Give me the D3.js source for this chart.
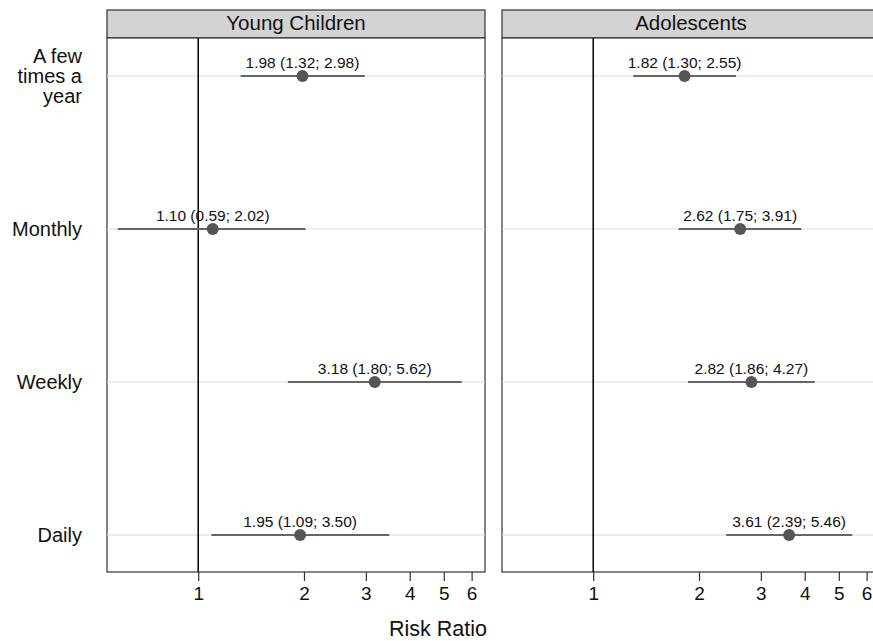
<!DOCTYPE html>
<html>
<head>
<meta charset="utf-8">
<script src="https://cdn.jsdelivr.net/npm/d3@7"></script>
<style>
  body { margin: 0; background: #fff; }
  text { font-family: "Liberation Sans", Arial, sans-serif; fill: #111; }
</style>
</head>
<body>
<div id="chart"></div>
<script>
// donnees du graphique
const groups = ['Young Children', 'Adolescents'];
const frequencies = ['A few times a year', 'Monthly', 'Weekly', 'Daily'];
const freqLines = [['A few', 'times a', 'year'], ['Monthly'], ['Weekly'], ['Daily']];
const ticks = [1, 2, 3, 4, 5, 6];

const rrYoung = [1.98, 1.10, 3.18, 1.95];
const lowYoung = [1.32, 0.59, 1.80, 1.09];
const highYoung = [2.98, 2.02, 5.62, 3.50];

const rrAdo = [1.82, 2.62, 2.82, 3.61];
const lowAdo = [1.30, 1.75, 1.86, 2.39];
const highAdo = [2.55, 3.91, 4.27, 5.46];

const series = [
  { rr: rrYoung, low: lowYoung, high: highYoung },
  { rr: rrAdo, low: lowAdo, high: highAdo }
];

// dimensions
let width = 873, height = 641;
let panelW = 378;
let panelX = [107, 502];
let stripTop = 10, stripH = 28;
let bodyTop = stripTop + stripH, bodyBottom = 572;

let svg = d3.select('#chart').append('svg')
  .attr('width', width)
  .attr('height', height);

let y = d3.scalePoint()
  .domain(frequencies)
  .range([76, 535]);

let fmt = d3.format('.2f');

groups.forEach(function(name, gi) {
  let x0 = panelX[gi];
  let x = d3.scaleLog()
    .domain([0.55, 6.55])
    .range([0, panelW]);

  let g = svg.append('g')
    .attr('transform', 'translate(' + x0 + ',0)');

  // bande du titre
  g.append('rect')
    .attr('x', 0).attr('y', stripTop)
    .attr('width', panelW).attr('height', stripH)
    .attr('fill', '#d3d3d3')
    .attr('stroke', '#333')
    .attr('stroke-width', 1.2);

  g.append('text')
    .attr('x', panelW / 2)
    .attr('y', stripTop + 20)
    .attr('text-anchor', 'middle')
    .attr('font-size', 20.5)
    .text(name);

  // fond du panneau
  g.append('rect')
    .attr('x', 0).attr('y', bodyTop)
    .attr('width', panelW).attr('height', bodyBottom - bodyTop)
    .attr('fill', '#fff')
    .attr('stroke', '#333')
    .attr('stroke-width', 1.2);

  // lignes horizontales
  g.selectAll('.grid')
    .data(frequencies)
    .enter().append('line')
    .attr('class', 'grid')
    .attr('x1', 0).attr('x2', panelW)
    .attr('y1', d => y(d)).attr('y2', d => y(d))
    .attr('stroke', '#dcdcdc')
    .attr('stroke-width', 1.2);

  // ligne de reference a 1
  g.append('line')
    .attr('x1', x(1)).attr('x2', x(1))
    .attr('y1', bodyTop).attr('y2', bodyBottom)
    .attr('stroke', '#000')
    .attr('stroke-width', 1.5);

  let s = series[gi];
  let rows = frequencies.map((f, i) => ({ f: f, rr: s.rr[i], low: s.low[i], high: s.high[i] }));

  g.selectAll('.ci')
    .data(rows)
    .enter().append('line')
    .attr('class', 'ci')
    .attr('x1', d => x(d.low)).attr('x2', d => x(d.high))
    .attr('y1', d => y(d.f)).attr('y2', d => y(d.f))
    .attr('stroke', '#666')
    .attr('stroke-width', 2);

  g.selectAll('.pt')
    .data(rows)
    .enter().append('circle')
    .attr('class', 'pt')
    .attr('cx', d => x(d.rr))
    .attr('cy', d => y(d.f))
    .attr('r', 6)
    .attr('fill', '#555');

  g.selectAll('.lbl')
    .data(rows)
    .enter().append('text')
    .attr('class', 'lbl')
    .attr('x', d => x(d.rr))
    .attr('y', d => y(d.f) - 8)
    .attr('text-anchor', 'middle')
    .attr('font-size', 15.5)
    .text(d => fmt(d.rr) + ' (' + fmt(d.low) + '; ' + fmt(d.high) + ')');

  // axe x
  let axis = g.append('g')
    .attr('transform', 'translate(0,' + bodyBottom + ')')
    .call(d3.axisBottom(x).tickValues(ticks).tickFormat(d3.format('d')).tickSize(9).tickPadding(6));
  axis.select('.domain').remove();
  axis.selectAll('line').attr('stroke', '#333').attr('stroke-width', 1.2);
  axis.selectAll('text')
    .attr('font-size', 19)
    .attr('font-family', '"Liberation Sans", Arial, sans-serif')
    .attr('fill', '#111');
});

// etiquettes de l'axe y
let ylab = svg.append('g');
frequencies.forEach(function(f, i) {
  let lines = freqLines[i];
  let t = ylab.append('text')
    .attr('x', 82)
    .attr('text-anchor', 'end')
    .attr('font-size', 20);
  lines.forEach(function(l, j) {
    t.append('tspan')
      .attr('x', 82)
      .attr('y', y(f) + 7 + (j - (lines.length - 1) / 2) * 20)
      .text(l);
  });
});

// titre de l'axe x
svg.append('text')
  .attr('x', 438)
  .attr('y', 636)
  .attr('text-anchor', 'middle')
  .attr('font-size', 21.5)
  .text('Risk Ratio');
</script>
</body>
</html>
